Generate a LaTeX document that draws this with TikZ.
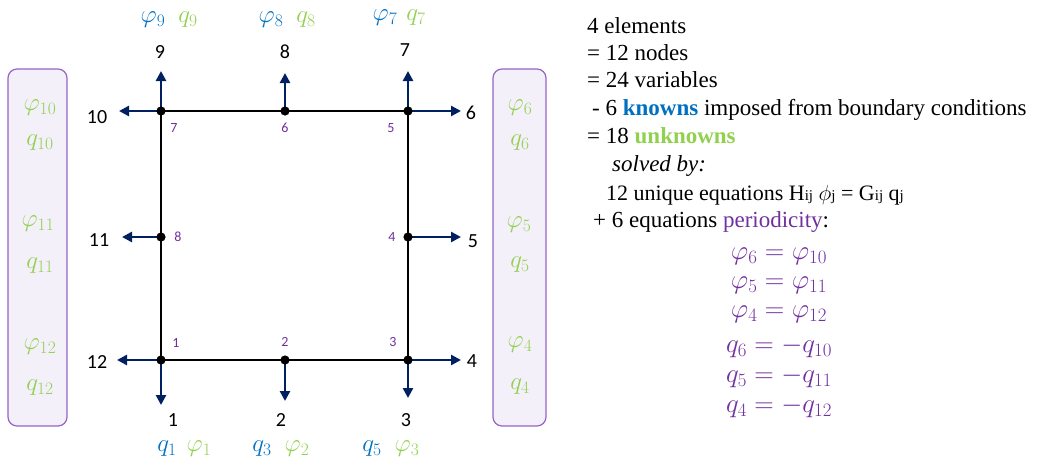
\documentclass[tikz,border=0pt]{standalone}
\usepackage{fix-cm}
\usepackage{fontspec}
\setmainfont{Liberation Serif}
\newfontfamily\calibri{Carlito}
\usetikzlibrary{arrows.meta,positioning}
\definecolor{bemBlue}  {RGB}{0,  112, 192}
\definecolor{bemGreen} {RGB}{146,208,  80}
\definecolor{bemPurple}{RGB}{112, 48, 160}
\definecolor{bemNavy}  {RGB}{0,   32,  96}
\definecolor{boxLine}  {RGB}{150,100, 200}
\definecolor{boxFill}  {RGB}{244,240, 250}

\tikzset{
  flux/.style={-{Triangle[length=10pt,width=10pt]},bemNavy,line width=2.6pt},
  mesh/.style={line width=1.4pt},
  gnum/.style={font=\calibri\fontsize{20}{22}\selectfont,inner sep=0pt},
  lnum/.style={font=\calibri\fontsize{14}{16}\selectfont,text=bemPurple,inner sep=0pt},
  var/.style={font=\fontsize{25}{26}\selectfont,inner sep=0pt},
  eqn/.style={font=\fontsize{27}{28}\selectfont,inner sep=0pt,text=bemPurple},
  pbox/.style={draw=boxLine,fill=boxFill,rounded corners=9pt,line width=1.2pt},
  txt/.style={anchor=base west,font=\fontsize{23}{27}\selectfont,inner sep=0pt},
}

\begin{document}
\begin{tikzpicture}[x=1pt,y=-1pt]
        \useasboundingbox (0,0) rectangle (1037,464);
        % Caixas periodicas
        \draw[pbox] (8,69) rectangle (67,426);
        \draw[pbox] (493,69) rectangle (546,426);
        % Pontos da malha
        \coordinate (p1) at (161,360);
        \coordinate (p2) at (285,360);
        \coordinate (p3) at (408,360);
        \coordinate (p4) at (408,237);
        \coordinate (p5) at (408,111);
        \coordinate (p6) at (285,111);
        \coordinate (p7) at (161,111);
        \coordinate (p8) at (161,237);
        % Elementos
        \draw[mesh] (p1) -- (p3) -- (p5) -- (p7) -- cycle;
        % Pontas das setas
        \coordinate (a1)  at (161,405);
        \coordinate (a2)  at (285,401);
        \coordinate (a3)  at (408,398);
        \coordinate (a4)  at (461,360);
        \coordinate (a5)  at (461,237);
        \coordinate (a6)  at (461,111);
        \coordinate (a7)  at (408,71);
        \coordinate (a8)  at (285,73);
        \coordinate (a9)  at (161,71);
        \coordinate (a10) at (119,111);
        \coordinate (a11) at (122,237);
        \coordinate (a12) at (117,360);
        % Setas
        \draw[flux] (p1) -- (a1);
        \draw[flux] (p2) -- (a2);
        \draw[flux] (p3) -- (a3);
        \draw[flux] (p3) -- (a4);
        \draw[flux] (p4) -- (a5);
        \draw[flux] (p5) -- (a6);
        \draw[flux] (p5) -- (a7);
        \draw[flux] (p6) -- (a8);
        \draw[flux] (p7) -- (a9);
        \draw[flux] (p7) -- (a10);
        \draw[flux] (p8) -- (a11);
        \draw[flux] (p1) -- (a12);
        \foreach \p in {1,...,8}
          \fill (p\p) circle (4.6pt);
        % Numeros globais
        \node[gnum] (g1)  at (173,420) {1};
        \node[gnum] (g2)  at (281,420) {2};
        \node[gnum] (g3)  at (406,420) {3};
        \node[gnum] (g4)  at (472,361) {4};
        \node[gnum] (g5)  at (473,241) {5};
        \node[gnum] (g6)  at (471,113) {6};
        \node[gnum] (g7)  at (405,50) {7};
        \node[gnum] (g8)  at (285,52) {8};
        \node[gnum] (g9)  at (160,52) {9};
        \node[gnum] (g10) at (97,117) {10};
        \node[gnum] (g11) at (99,240) {11};
        \node[gnum] (g12) at (97,362) {12};
        % Numeros locais
        \node[lnum] (e1) at (176,343) {1};
        \node[lnum] (e2) at (285,342) {2};
        \node[lnum] (e3) at (393,342) {3};
        \node[lnum] (e4) at (392,237) {4};
        \node[lnum] (e5) at (391,128) {5};
        \node[lnum] (e6) at (285,128) {6};
        \node[lnum] (e7) at (174,128) {7};
        \node[lnum] (e8) at (178,237) {8};
        % Variaveis em cima e em baixo
        \node[var,text=bemBlue]  (v9)  at (153,20) {$\varphi_9$};
        \node[var,text=bemGreen] (w9)  at (188,20) {$q_9$};
        \node[var,text=bemBlue]  (v8)  at (271,20) {$\varphi_8$};
        \node[var,text=bemGreen] (w8)  at (306,20) {$q_8$};
        \node[var,text=bemBlue]  (v7)  at (385,18) {$\varphi_7$};
        \node[var,text=bemGreen] (w7)  at (416,18) {$q_7$};
        \node[var,text=bemBlue]  (v1)  at (167,449) {$q_1$};
        \node[var,text=bemGreen] (w1)  at (199,449) {$\varphi_1$};
        \node[var,text=bemBlue]  (v3)  at (262,449) {$q_3$};
        \node[var,text=bemGreen] (w2)  at (297,449) {$\varphi_2$};
        \node[var,text=bemBlue]  (v5)  at (372,449) {$q_5$};
        \node[var,text=bemGreen] (w3)  at (407,449) {$\varphi_3$};
        % Variaveis nas caixas
        \node[var,text=bemGreen] (b10) at (40,108) {$\varphi_{10}$};
        \node[var,text=bemGreen] (c10) at (40,143) {$q_{10}$};
        \node[var,text=bemGreen] (b11) at (38,224) {$\varphi_{11}$};
        \node[var,text=bemGreen] (c11) at (40,266) {$q_{11}$};
        \node[var,text=bemGreen] (b12) at (40,347) {$\varphi_{12}$};
        \node[var,text=bemGreen] (c12) at (40,388) {$q_{12}$};
        \node[var,text=bemGreen] (b6)  at (520,108) {$\varphi_6$};
        \node[var,text=bemGreen] (c6)  at (520,143) {$q_6$};
        \node[var,text=bemGreen] (b5)  at (519,225) {$\varphi_5$};
        \node[var,text=bemGreen] (c5)  at (520,265) {$q_5$};
        \node[var,text=bemGreen] (b4)  at (520,345) {$\varphi_4$};
        \node[var,text=bemGreen] (c4)  at (520,387) {$q_4$};
        % Texto
        \node[txt] (t1) at (587,33) {4 elements};
        \node[txt] (t2) at (587,60) {= 12 nodes};
        \node[txt] (t3) at (587,87) {= 24 variables};
        \node[txt] (t4) at (592,115) {- 6 \textcolor{bemBlue}{\bfseries knowns} imposed from boundary conditions};
        \node[txt] (t5) at (587,143) {= 18 \textcolor{bemGreen}{\bfseries unknowns}};
        \node[txt] (t6) at (612,171) {\itshape solved by:};
        \node[txt,font=\fontsize{22}{22}\selectfont] (t7) at (606,200)
          {12 unique equations H{\fontsize{15}{15}\selectfont ij} $\phi${\fontsize{15}{15}\selectfont j} = G{\fontsize{15}{15}\selectfont ij} q{\fontsize{15}{15}\selectfont j}};
        \node[txt] (t8) at (593,227) {+ 6 equations \textcolor{bemPurple}{periodicity}:};
        % Periodicidade
        \node[eqn] (r1) at (779,256) {$\varphi_6 = \varphi_{10}$};
        \node[eqn] (r2) at (779,285) {$\varphi_5 = \varphi_{11}$};
        \node[eqn] (r3) at (779,314) {$\varphi_4 = \varphi_{12}$};
        \node[eqn] (r4) at (779,347) {$q_6 = -q_{10}$};
        \node[eqn] (r5) at (779,377) {$q_5 = -q_{11}$};
        \node[eqn] (r6) at (779,407) {$q_4 = -q_{12}$};
      \end{tikzpicture}
\end{document}
